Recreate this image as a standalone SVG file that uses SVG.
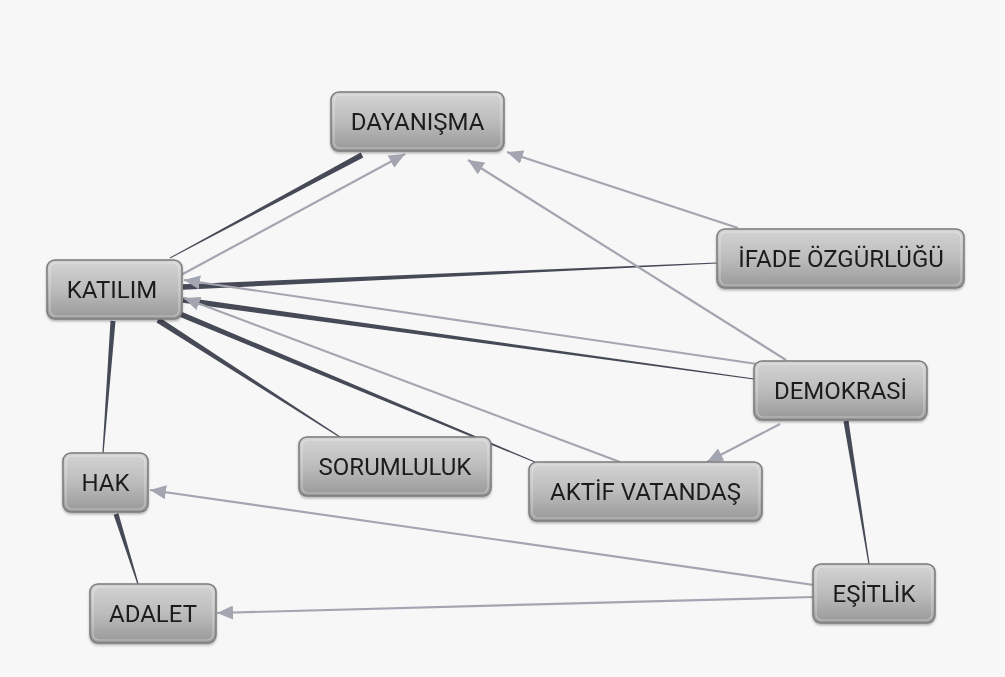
<svg xmlns="http://www.w3.org/2000/svg" width="1005" height="677" viewBox="0 0 1005 677">
<style>
.box{fill:url(#ng);stroke:#7b7b7b;stroke-width:1.5}
.hl{fill:none;stroke:#ffffff;stroke-opacity:0.35;stroke-width:1.2}
.lbl{font-family:Roboto,"Liberation Sans",sans-serif;font-size:24px;fill:#1e1e1e;text-anchor:middle}
.thick{fill:#464a56}
.thin{fill:none;stroke:#a3a6b0;stroke-width:2.2;marker-end:url(#ah)}
</style>
<defs>
<linearGradient id="ng" x1="0" y1="0" x2="0" y2="1">
<stop offset="0" stop-color="#d4d4d4"/>
<stop offset="0.5" stop-color="#bcbcbc"/>
<stop offset="1" stop-color="#989898"/>
</linearGradient>
<filter id="sh" x="-10%" y="-10%" width="120%" height="130%">
<feDropShadow dx="0" dy="1.5" stdDeviation="1.2" flood-color="#000" flood-opacity="0.3"/>
</filter>
<marker id="ah" markerUnits="userSpaceOnUse" markerWidth="18" markerHeight="14" refX="16" refY="7" orient="auto">
<path d="M0,0 L16,7 L0,14 z" fill="#a3a6b0"/>
</marker>
</defs>
<rect x="0" y="0" width="1005" height="677" fill="#f7f7f7"/>
<g id="connectors">
<polygon class="thick" points="360.7,152.5 363.3,157.5 170.2,258.4 169.8,257.6"/>
<polygon class="thick" points="183.1,289.8 717,263.6 717,262.4 182.9,284.2"/>
<polygon class="thick" points="182.6,302.8 753.9,379.6 754.1,378.4 183.4,297.2"/>
<polygon class="thick" points="178.9,316.6 534.8,462.6 535.2,461.4 181.1,311.4"/>
<polygon class="thick" points="156.5,322.4 339.7,437.5 340.3,436.5 159.5,317.6"/>
<polygon class="thick" points="110.5,320.8 102.4,453 103.6,453 115.5,321.2"/>
<polygon class="thick" points="113.6,514.7 137.4,584.2 138.6,583.8 118.4,513.3"/>
<polygon class="thick" points="843.5,421.4 868.4,564.1 869.6,563.9 848.5,420.6"/>
<line class="thin" x1="181" y1="275" x2="405" y2="154"/>
<line class="thin" x1="738" y1="228" x2="507" y2="152"/>
<line class="thin" x1="786" y1="360" x2="468" y2="160"/>
<line class="thin" x1="757" y1="364" x2="184" y2="280"/>
<line class="thin" x1="620" y1="462" x2="184" y2="298"/>
<line class="thin" x1="780" y1="424" x2="707" y2="462"/>
<line class="thin" x1="814" y1="585" x2="150" y2="490"/>
<line class="thin" x1="814" y1="597" x2="217" y2="613"/>
</g>
<g id="n-dayanisma" filter="url(#sh)">
<rect class="box" x="331" y="92" width="173" height="59" rx="8"/>
<rect class="hl" x="334" y="95" width="167" height="53" rx="6"/>
<text class="lbl" x="417.5" y="130">DAYANIŞMA</text>
</g>
<g id="n-katilim" filter="url(#sh)">
<rect class="box" x="47" y="260" width="135" height="59" rx="8"/>
<rect class="hl" x="50" y="263" width="129" height="53" rx="6"/>
<text class="lbl" x="112" y="298">KATILIM</text>
</g>
<g id="n-ifade" filter="url(#sh)">
<rect class="box" x="717" y="229" width="247" height="59" rx="8"/>
<rect class="hl" x="720" y="232" width="241" height="53" rx="6"/>
<text class="lbl" x="841" y="267">İFADE ÖZGÜRLÜĞÜ</text>
</g>
<g id="n-demokrasi" filter="url(#sh)">
<rect class="box" x="754" y="361" width="173" height="59" rx="8"/>
<rect class="hl" x="757" y="364" width="167" height="53" rx="6"/>
<text class="lbl" x="840.5" y="399">DEMOKRASİ</text>
</g>
<g id="n-hak" filter="url(#sh)">
<rect class="box" x="63" y="453" width="85" height="59" rx="8"/>
<rect class="hl" x="66" y="456" width="79" height="53" rx="6"/>
<text class="lbl" x="105.5" y="491">HAK</text>
</g>
<g id="n-sorumluluk" filter="url(#sh)">
<rect class="box" x="299" y="437" width="192" height="59" rx="8"/>
<rect class="hl" x="302" y="440" width="186" height="53" rx="6"/>
<text class="lbl" x="395" y="475">SORUMLULUK</text>
</g>
<g id="n-aktif" filter="url(#sh)">
<rect class="box" x="529" y="462" width="233" height="59" rx="8"/>
<rect class="hl" x="532" y="465" width="227" height="53" rx="6"/>
<text class="lbl" x="645.5" y="500">AKTİF VATANDAŞ</text>
</g>
<g id="n-adalet" filter="url(#sh)">
<rect class="box" x="90" y="584" width="126" height="59" rx="8"/>
<rect class="hl" x="93" y="587" width="120" height="53" rx="6"/>
<text class="lbl" x="153" y="622">ADALET</text>
</g>
<g id="n-esitlik" filter="url(#sh)">
<rect class="box" x="813" y="564" width="122" height="59" rx="8"/>
<rect class="hl" x="816" y="567" width="116" height="53" rx="6"/>
<text class="lbl" x="874" y="602">EŞİTLİK</text>
</g>
</svg>
